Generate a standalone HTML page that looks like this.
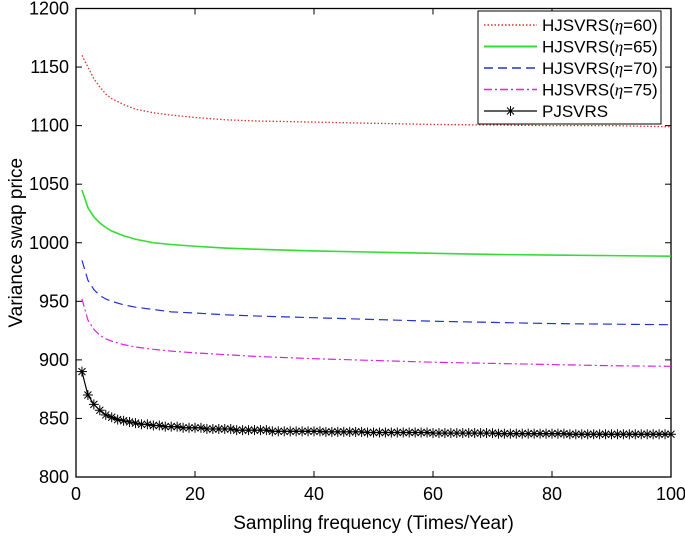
<!DOCTYPE html>
<html><head><meta charset="utf-8"><style>
html,body{margin:0;padding:0;background:#fff;}
svg{display:block;font-family:"Liberation Sans",Arial,sans-serif;}
</style></head><body>
<svg id="chart" width="685" height="536" viewBox="0 0 685 536" xmlns="http://www.w3.org/2000/svg">
<g id="plot"></g>
</svg>
<script>
const xTicks=[0,20,40,60,80,100];
const yTicks=[800,850,900,950,1000,1050,1100,1150,1200];
const nSparse=[1,2,3,4,5,6,8,10,13,16,20,25,30,40,50,60,70,80,90,100];
const eta60=[1160,1150,1140,1133,1127,1123,1118,1114,1111,1109,1107,1105,1104,1103,1102,1101,1100.5,1100,1100,1099];
const eta65=[1045,1030,1022,1017,1013,1010,1006,1003,1000,998.5,997,995.5,994.5,993,992,991,990,989.5,989,988.5];
const eta70=[985,968,960,955,952,950,947,945,943,941,940,938.5,937.5,936,934.5,933,932,931,930.5,930];
const eta75=[952,934,926,921,918,916,913,911,909,907.5,906,904.5,903,901,899.5,898,897,896,895,894.5];
const pjsvrs=[890,870,862,857,853,851,849,848,847,846,
845,845,844,844,843,843,843,842,842,842,
842,841,841,841,841,841,840,840,840,840,
840,840,839,839,839,839,839,839,839,839,
839,838.5,838.5,838.5,838.5,838.5,838.5,838.5,838,838,
838,838,838,838,838,838,838,838,838,837.5,
837.5,837.5,837.5,837.5,837.5,837.5,837.5,837.5,837.5,837.5,
837,837,837,837,837,837,837,837,837,837,
837,837,836.5,836.5,836.5,836.5,836.5,836.5,836.5,836.5,
836.5,836.5,836.5,836.5,836.5,836.5,836.5,836.5,836.5,836.5];
const legendEtas=["60","65","70","75"];

const L=76,R=671,T=8.5,B=477;
const sx=v=>L+(v-0)/(100-0)*(R-L);
const sy=v=>B-(v-800)/(1200-800)*(B-T);
const NS="http://www.w3.org/2000/svg";
const g=document.getElementById('plot');
function mk(tag,attrs,parent){const e=document.createElementNS(NS,tag);for(const k in attrs)e.setAttribute(k,attrs[k]);(parent||g).appendChild(e);return e;}

const box=mk('rect',{x:L,y:T,width:R-L,height:B-T,fill:'none',stroke:'#000','stroke-width':1.3});



xTicks.forEach(t=>{
  const x=sx(t);
  mk('line',{x1:x,x2:x,y1:B,y2:B-6,stroke:'#000','stroke-width':1});
  mk('line',{x1:x,x2:x,y1:T,y2:T+6,stroke:'#000','stroke-width':1});
  const tx=mk('text',{x:x,y:B+23,'font-size':18,'text-anchor':'middle',fill:'#000'});
  tx.textContent=t;
  
  
});
yTicks.forEach(t=>{
  const y=sy(t);
  mk('line',{x1:L,x2:L+6,y1:y,y2:y,stroke:'#000','stroke-width':1});
  mk('line',{x1:R,x2:R-6,y1:y,y2:y,stroke:'#000','stroke-width':1});
  const tx=mk('text',{x:L-7,y:y+6,'font-size':18,'text-anchor':'end',fill:'#000'});
  tx.textContent=t;
  
  
});

const xl=mk('text',{x:(L+R)/2,y:529,'font-size':19,'text-anchor':'middle',fill:'#000'});
xl.textContent='Sampling frequency (Times/Year)';


const yl=mk('text',{x:0,y:0,'font-size':19,'text-anchor':'middle',fill:'#000',transform:'translate(22,'+((T+B)/2)+') rotate(-90)'});
yl.textContent='Variance swap price';



const styles=[
 {c:'#d9342b',d:'1.5 2',w:1.3,name:'series-eta-60'},
 {c:'#33dd33',d:'',w:1.6,name:'series-eta-65'},
 {c:'#2233cc',d:'9 5',w:1.2,name:'series-eta-70'},
 {c:'#dd22dd',d:'8 3 2 3',w:1.2,name:'series-eta-75'}
];
[eta60,eta65,eta70,eta75].forEach((vals,i)=>{
  const s=styles[i];
  const p=mk('polyline',{points:vals.map((v,j)=>sx(nSparse[j])+','+sy(v)).join(' '),fill:'none',stroke:s.c,'stroke-width':s.w,'stroke-dasharray':s.d});
  
  
});
const pl=mk('polyline',{points:pjsvrs.map((v,j)=>sx(j+1)+','+sy(v)).join(' '),fill:'none',stroke:'#000','stroke-width':1.2});


function star(cx,cy,r,parent){
  const gg=mk('g',{stroke:'#000','stroke-width':1},parent);
  mk('line',{x1:cx-r,x2:cx+r,y1:cy,y2:cy},gg);
  mk('line',{x1:cx,x2:cx,y1:cy-r,y2:cy+r},gg);
  mk('line',{x1:cx-r*.7,x2:cx+r*.7,y1:cy-r*.7,y2:cy+r*.7},gg);
  mk('line',{x1:cx-r*.7,x2:cx+r*.7,y1:cy+r*.7,y2:cy-r*.7},gg);
  return gg;
}
pjsvrs.forEach((v,j)=>{
  const m=star(sx(j+1),sy(v),5);
  
  
});

const lg=mk('g',{});


mk('rect',{x:478,y:11,width:183,height:113,fill:'#fff',stroke:'#000','stroke-width':1},lg);
for(let i=0;i<5;i++){
  const y=25+i*21.5;
  const e=mk('g',{},lg);
  
  
  const t=mk('text',{x:542,y:y+6,'font-size':17,fill:'#000'},e);
  if(i<4){
    const s=styles[i];
    mk('line',{x1:484,x2:537,y1:y,y2:y,stroke:s.c,'stroke-width':s.w+0.3,'stroke-dasharray':s.d},e);
    t.appendChild(document.createTextNode('HJSVRS('));
    const it=mk('tspan',{'font-style':'italic','font-family':'"Liberation Serif",serif'},t);
    it.textContent='η';
    t.appendChild(document.createTextNode('='+legendEtas[i]+')'));
  } else {
    mk('line',{x1:484,x2:537,y1:y,y2:y,stroke:'#000','stroke-width':1.2},e);
    star(510.5,y,5,e);
    t.textContent='PJSVRS';
  }
}
</script>
</body></html>
